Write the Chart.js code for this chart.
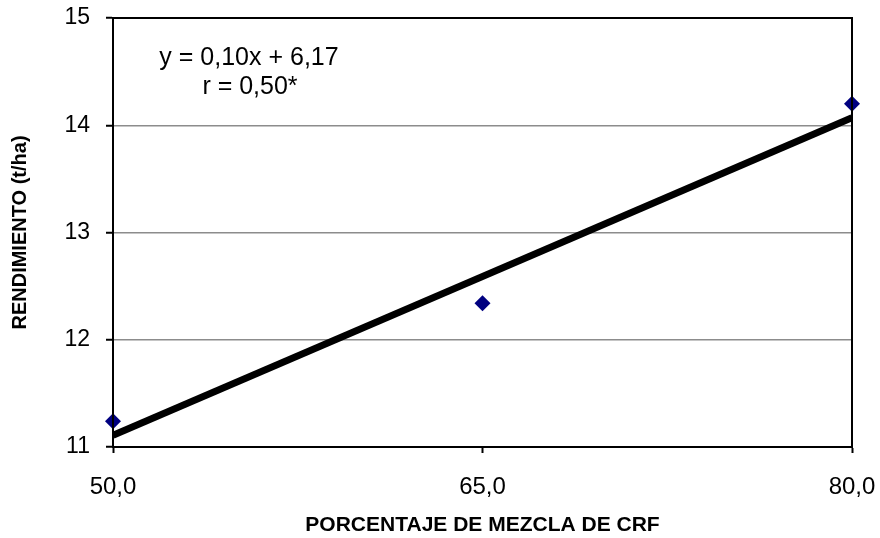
<!DOCTYPE html>
<html>
<head>
<meta charset="utf-8">
<script src="https://cdn.jsdelivr.net/npm/chart.js@4.4.0/dist/chart.umd.min.js"></script>
<style>
  html, body { margin: 0; padding: 0; background: #fff; }
  #wrap { width: 880px; height: 538px; }
</style>
</head>
<body>
<div id="wrap"><canvas id="chart"></canvas></div>
<script>
// Porcentaje de mezcla de CRF vs rendimiento
const mezcla = [50, 65, 80];
const rendimiento = [11.24, 12.34, 14.2];
const trendX = [50, 80];
const trendY = [11.11, 14.07];
const xTicks = [50, 65, 80];
const yTicks = [11, 12, 13, 14, 15];
const annotation = ['y = 0,10x + 6,17', 'r = 0,50*'];

const FONT = "'Liberation Sans', Arial, sans-serif";

const frame = {
  id: 'frame',
  afterDatasetsDraw(chart) {
    const { ctx, chartArea: a } = chart;
    ctx.save();
    ctx.strokeStyle = '#000';
    ctx.lineWidth = 2;
    ctx.strokeRect(a.left, a.top, a.right - a.left, a.bottom - a.top);
    ctx.restore();
  },
  afterDraw(chart) {
    const { ctx, chartArea: a } = chart;
    ctx.save();
    ctx.fillStyle = '#000';
    ctx.font = '25px ' + FONT;
    ctx.textAlign = 'center';
    ctx.textBaseline = 'middle';
    ctx.fillText(annotation[0], a.left + 136, a.top + 40);
    ctx.fillText(annotation[1], a.left + 137, a.top + 69);
    ctx.restore();
  },
};

new Chart(document.getElementById('chart'), {
  type: 'scatter',
  data: {
    datasets: [
      {
        label: 'Rendimiento',
        data: mezcla.map((x, i) => ({ x, y: rendimiento[i] })),
        backgroundColor: '#000080',
        borderColor: '#000080',
        pointStyle: 'rectRot',
        pointRadius: 8,
        pointHoverRadius: 8,
        borderWidth: 0,
        clip: false,
        order: 0,
      },
      {
        type: 'line',
        label: 'Lineal',
        data: trendX.map((x, i) => ({ x, y: trendY[i] })),
        borderColor: '#000',
        borderWidth: 7,
        pointRadius: 0,
        fill: false,
        order: 1,
      },
    ],
  },
  options: {
    responsive: true,
    maintainAspectRatio: false,
    animation: false,
    layout: { autoPadding: false, padding: { top: 18, right: 28, left: 0, bottom: 0 } },
    scales: {
      x: {
        type: 'linear',
        min: 50,
        max: 80,
        afterBuildTicks: (s) => { s.ticks = xTicks.map(v => ({ value: v })); },
        afterFit: (s) => { s.height = 91; s.paddingLeft = 0; s.paddingRight = 0; },
        grid: { drawOnChartArea: false, drawTicks: true, tickLength: 6, tickColor: '#000', tickWidth: 2 },
        border: { color: '#000', width: 2 },
        ticks: {
          color: '#000',
          font: { family: FONT, size: 24 },
          padding: 20,
          maxRotation: 0,
          callback: (v) => v.toFixed(1).replace('.', ','),
        },
        title: {
          display: true,
          text: 'PORCENTAJE DE MEZCLA DE CRF',
          color: '#000',
          font: { family: FONT, size: 21, weight: 'bold', lineHeight: 1 },
          padding: { top: 0, bottom: 2 },
        },
      },
      y: {
        min: 11,
        max: 15,
        afterBuildTicks: (s) => { s.ticks = yTicks.map(v => ({ value: v })); },
        afterFit: (s) => { s.width = 113; s.paddingTop = 0; s.paddingBottom = 0; },
        grid: { color: '#8c8c8c', lineWidth: 1.5, drawTicks: true, tickLength: 7, tickColor: '#000', tickWidth: 2 },
        border: { color: '#000', width: 2 },
        ticks: {
          color: '#000',
          font: { family: FONT, size: 23 },
          padding: 16,
        },
        title: {
          display: true,
          text: 'RENDIMIENTO (t/ha)',
          color: '#000',
          font: { family: FONT, size: 20, weight: 'bold' },
          padding: { top: 8, bottom: 0 },
        },
      },
    },
    plugins: {
      legend: { display: false },
      tooltip: { enabled: false },
    },
  },
  plugins: [frame],
});
</script>
</body>
</html>
